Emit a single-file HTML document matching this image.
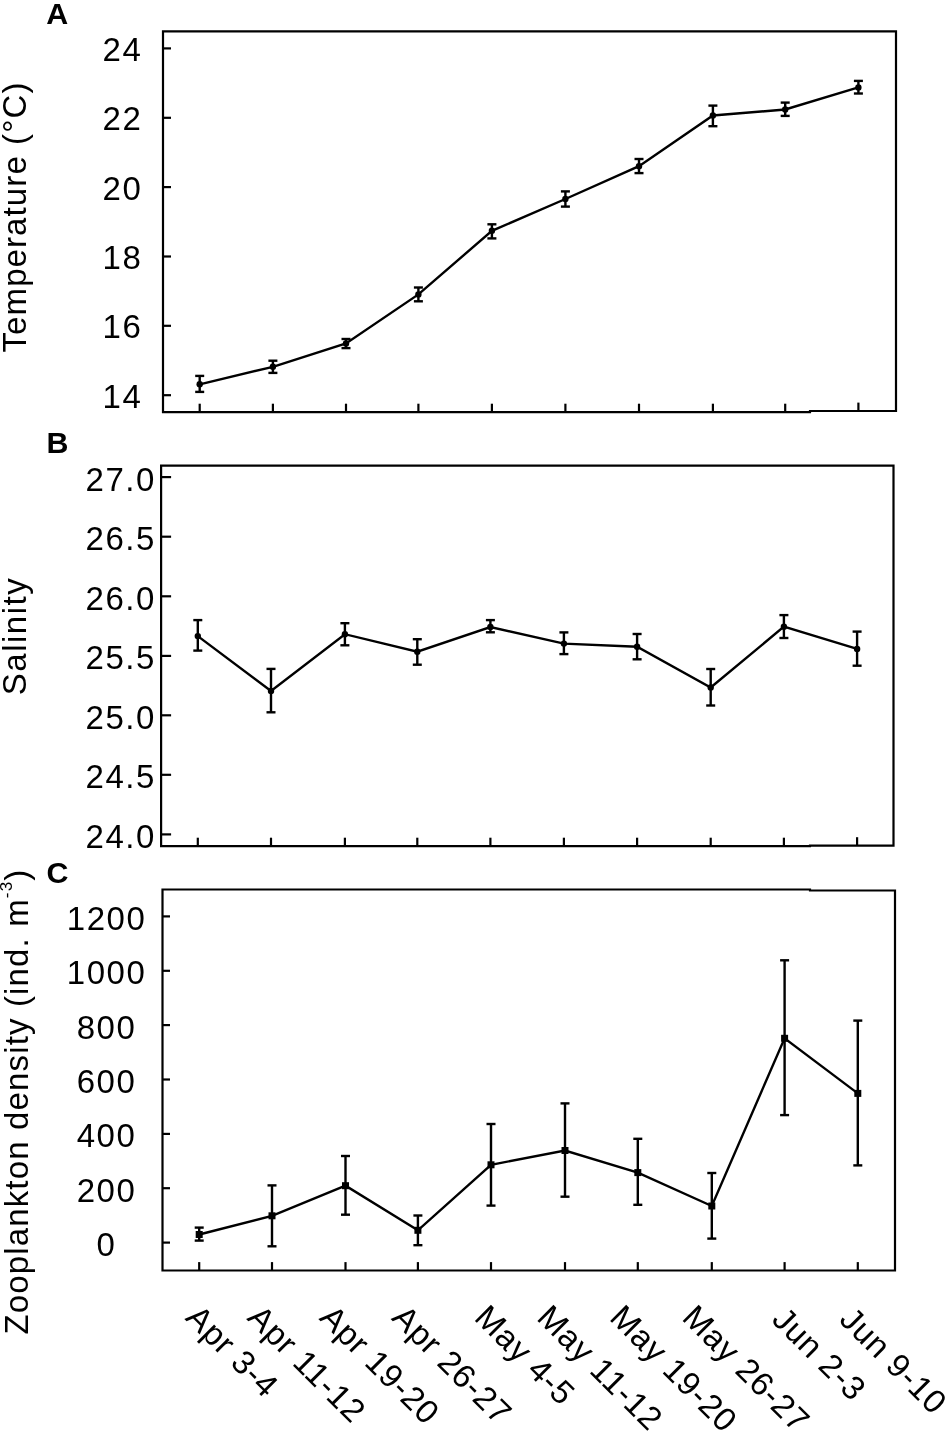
<!DOCTYPE html>
<html><head><meta charset="utf-8"><title>Figure</title>
<style>
html,body{margin:0;padding:0;background:#fff;}
body{width:945px;height:1433px;overflow:hidden;}
svg{display:block;}
text{font-family:'Liberation Sans', Arial, Helvetica, sans-serif;fill:#000;}
.tk{font-size:33px;letter-spacing:1.5px;}
.pl{font-size:30.4px;font-weight:bold;}
.yl{font-size:33px;letter-spacing:1.5px;}
.xl{font-size:33px;letter-spacing:0.8px;}
</style></head>
<body>
<svg width="945" height="1433" viewBox="0 0 945 1433">
<rect width="945" height="1433" fill="#fff"/>
<path d="M163,31.4 H810 V31.4 H896 V411.0 H810 V412.1 H163 Z" fill="none" stroke="#000" stroke-width="2.2" stroke-linejoin="miter"/>
<line x1="163" y1="48.4" x2="171" y2="48.4" stroke="#000" stroke-width="2.2"/>
<text x="142.3" y="61.0" text-anchor="end" class="tk">24</text>
<line x1="163" y1="117.8" x2="171" y2="117.8" stroke="#000" stroke-width="2.2"/>
<text x="142.3" y="130.4" text-anchor="end" class="tk">22</text>
<line x1="163" y1="187.1" x2="171" y2="187.1" stroke="#000" stroke-width="2.2"/>
<text x="142.3" y="199.7" text-anchor="end" class="tk">20</text>
<line x1="163" y1="256.5" x2="171" y2="256.5" stroke="#000" stroke-width="2.2"/>
<text x="142.3" y="269.1" text-anchor="end" class="tk">18</text>
<line x1="163" y1="325.8" x2="171" y2="325.8" stroke="#000" stroke-width="2.2"/>
<text x="142.3" y="338.40" text-anchor="end" class="tk">16</text>
<line x1="163" y1="395.2" x2="171" y2="395.2" stroke="#000" stroke-width="2.2"/>
<text x="142.3" y="407.8" text-anchor="end" class="tk">14</text>
<line x1="199.7" y1="412.1" x2="199.7" y2="403.70" stroke="#000" stroke-width="2.2"/>
<line x1="272.9" y1="412.1" x2="272.9" y2="403.70" stroke="#000" stroke-width="2.2"/>
<line x1="346" y1="412.1" x2="346" y2="403.70" stroke="#000" stroke-width="2.2"/>
<line x1="418.4" y1="412.1" x2="418.4" y2="403.70" stroke="#000" stroke-width="2.2"/>
<line x1="491.9" y1="412.1" x2="491.9" y2="403.70" stroke="#000" stroke-width="2.2"/>
<line x1="565.4" y1="412.1" x2="565.4" y2="403.70" stroke="#000" stroke-width="2.2"/>
<line x1="639" y1="412.1" x2="639" y2="403.70" stroke="#000" stroke-width="2.2"/>
<line x1="712.9" y1="412.1" x2="712.9" y2="403.70" stroke="#000" stroke-width="2.2"/>
<line x1="785.2" y1="412.1" x2="785.2" y2="403.70" stroke="#000" stroke-width="2.2"/>
<line x1="858.4" y1="411.0" x2="858.4" y2="402.6" stroke="#000" stroke-width="2.2"/>
<polyline fill="none" stroke="#000" stroke-width="2.4" points="199.7,384.3 272.9,366.8 346,343.5 418.4,294.4 491.9,230.8 565.4,199.0 639,166.2 712.9,115.5 785.2,109.5 858.4,87.4"/>
<line x1="199.7" y1="375.9" x2="199.7" y2="391.9" stroke="#000" stroke-width="2.4"/>
<line x1="195.2" y1="375.9" x2="204.2" y2="375.9" stroke="#000" stroke-width="2.4"/>
<line x1="195.2" y1="391.9" x2="204.2" y2="391.9" stroke="#000" stroke-width="2.4"/>
<circle cx="199.7" cy="384.3" r="3.2" fill="#000"/>
<line x1="272.9" y1="360.7" x2="272.9" y2="372.9" stroke="#000" stroke-width="2.4"/>
<line x1="268.4" y1="360.7" x2="277.4" y2="360.7" stroke="#000" stroke-width="2.4"/>
<line x1="268.4" y1="372.9" x2="277.4" y2="372.9" stroke="#000" stroke-width="2.4"/>
<circle cx="272.9" cy="366.8" r="3.2" fill="#000"/>
<line x1="346" y1="339.0" x2="346" y2="348.1" stroke="#000" stroke-width="2.4"/>
<line x1="341.5" y1="339.0" x2="350.5" y2="339.0" stroke="#000" stroke-width="2.4"/>
<line x1="341.5" y1="348.1" x2="350.5" y2="348.1" stroke="#000" stroke-width="2.4"/>
<circle cx="346" cy="343.5" r="3.2" fill="#000"/>
<line x1="418.4" y1="287.5" x2="418.4" y2="301.3" stroke="#000" stroke-width="2.4"/>
<line x1="413.9" y1="287.5" x2="422.9" y2="287.5" stroke="#000" stroke-width="2.4"/>
<line x1="413.9" y1="301.3" x2="422.9" y2="301.3" stroke="#000" stroke-width="2.4"/>
<circle cx="418.4" cy="294.4" r="3.2" fill="#000"/>
<line x1="491.9" y1="224.3" x2="491.9" y2="238.4" stroke="#000" stroke-width="2.4"/>
<line x1="487.4" y1="224.3" x2="496.4" y2="224.3" stroke="#000" stroke-width="2.4"/>
<line x1="487.4" y1="238.4" x2="496.4" y2="238.4" stroke="#000" stroke-width="2.4"/>
<circle cx="491.9" cy="230.8" r="3.2" fill="#000"/>
<line x1="565.4" y1="191.4" x2="565.4" y2="206.6" stroke="#000" stroke-width="2.4"/>
<line x1="560.9" y1="191.4" x2="569.9" y2="191.4" stroke="#000" stroke-width="2.4"/>
<line x1="560.9" y1="206.6" x2="569.9" y2="206.6" stroke="#000" stroke-width="2.4"/>
<circle cx="565.4" cy="199.0" r="3.2" fill="#000"/>
<line x1="639" y1="159.0" x2="639" y2="173.1" stroke="#000" stroke-width="2.4"/>
<line x1="634.5" y1="159.0" x2="643.5" y2="159.0" stroke="#000" stroke-width="2.4"/>
<line x1="634.5" y1="173.1" x2="643.5" y2="173.1" stroke="#000" stroke-width="2.4"/>
<circle cx="639" cy="166.2" r="3.2" fill="#000"/>
<line x1="712.9" y1="105.6" x2="712.9" y2="126.2" stroke="#000" stroke-width="2.4"/>
<line x1="708.4" y1="105.6" x2="717.4" y2="105.6" stroke="#000" stroke-width="2.4"/>
<line x1="708.4" y1="126.2" x2="717.4" y2="126.2" stroke="#000" stroke-width="2.4"/>
<circle cx="712.9" cy="115.5" r="3.2" fill="#000"/>
<line x1="785.2" y1="102.6" x2="785.2" y2="115.9" stroke="#000" stroke-width="2.4"/>
<line x1="780.7" y1="102.6" x2="789.7" y2="102.6" stroke="#000" stroke-width="2.4"/>
<line x1="780.7" y1="115.9" x2="789.7" y2="115.9" stroke="#000" stroke-width="2.4"/>
<circle cx="785.2" cy="109.5" r="3.2" fill="#000"/>
<line x1="858.4" y1="80.9" x2="858.4" y2="93.5" stroke="#000" stroke-width="2.4"/>
<line x1="853.9" y1="80.9" x2="862.9" y2="80.9" stroke="#000" stroke-width="2.4"/>
<line x1="853.9" y1="93.5" x2="862.9" y2="93.5" stroke="#000" stroke-width="2.4"/>
<circle cx="858.4" cy="87.4" r="3.2" fill="#000"/>
<path d="M161.1,465.6 H810 V465.6 H893.5 V845.6 H810 V846.1 H161.1 Z" fill="none" stroke="#000" stroke-width="2.2" stroke-linejoin="miter"/>
<line x1="161.1" y1="477.1" x2="171.1" y2="477.1" stroke="#000" stroke-width="2.2"/>
<text x="155.8" y="490.6" text-anchor="end" class="tk">27.0</text>
<line x1="161.1" y1="536.7" x2="171.1" y2="536.7" stroke="#000" stroke-width="2.2"/>
<text x="155.8" y="550.2" text-anchor="end" class="tk">26.5</text>
<line x1="161.1" y1="596.3" x2="171.1" y2="596.3" stroke="#000" stroke-width="2.2"/>
<text x="155.8" y="609.8" text-anchor="end" class="tk">26.0</text>
<line x1="161.1" y1="655.9" x2="171.1" y2="655.9" stroke="#000" stroke-width="2.2"/>
<text x="155.8" y="669.4" text-anchor="end" class="tk">25.5</text>
<line x1="161.1" y1="715.3" x2="171.1" y2="715.3" stroke="#000" stroke-width="2.2"/>
<text x="155.8" y="728.8" text-anchor="end" class="tk">25.0</text>
<line x1="161.1" y1="774.8" x2="171.1" y2="774.8" stroke="#000" stroke-width="2.2"/>
<text x="155.8" y="788.3" text-anchor="end" class="tk">24.5</text>
<line x1="161.1" y1="834.4" x2="171.1" y2="834.4" stroke="#000" stroke-width="2.2"/>
<text x="155.8" y="847.9" text-anchor="end" class="tk">24.0</text>
<line x1="197.8" y1="846.1" x2="197.8" y2="837.7" stroke="#000" stroke-width="2.2"/>
<line x1="271.0" y1="846.1" x2="271.0" y2="837.7" stroke="#000" stroke-width="2.2"/>
<line x1="344.9" y1="846.1" x2="344.9" y2="837.7" stroke="#000" stroke-width="2.2"/>
<line x1="417.3" y1="846.1" x2="417.3" y2="837.7" stroke="#000" stroke-width="2.2"/>
<line x1="490.4" y1="846.1" x2="490.4" y2="837.7" stroke="#000" stroke-width="2.2"/>
<line x1="563.9" y1="846.1" x2="563.9" y2="837.7" stroke="#000" stroke-width="2.2"/>
<line x1="637.1" y1="846.1" x2="637.1" y2="837.7" stroke="#000" stroke-width="2.2"/>
<line x1="710.7" y1="846.1" x2="710.7" y2="837.7" stroke="#000" stroke-width="2.2"/>
<line x1="783.9" y1="846.1" x2="783.9" y2="837.7" stroke="#000" stroke-width="2.2"/>
<line x1="857.1" y1="845.6" x2="857.1" y2="837.2" stroke="#000" stroke-width="2.2"/>
<polyline fill="none" stroke="#000" stroke-width="2.4" points="197.8,636.1 271.0,691.0 344.9,634.2 417.3,651.7 490.4,627.0 563.9,643.6 637.1,646.8 710.7,687.5 783.9,626.7 857.1,648.9"/>
<line x1="197.8" y1="620.1" x2="197.8" y2="650.6" stroke="#000" stroke-width="2.4"/>
<line x1="193.3" y1="620.1" x2="202.3" y2="620.1" stroke="#000" stroke-width="2.4"/>
<line x1="193.3" y1="650.6" x2="202.3" y2="650.6" stroke="#000" stroke-width="2.4"/>
<circle cx="197.8" cy="636.1" r="3.2" fill="#000"/>
<line x1="271.0" y1="668.9" x2="271.0" y2="712.3" stroke="#000" stroke-width="2.4"/>
<line x1="266.5" y1="668.9" x2="275.5" y2="668.9" stroke="#000" stroke-width="2.4"/>
<line x1="266.5" y1="712.3" x2="275.5" y2="712.3" stroke="#000" stroke-width="2.4"/>
<circle cx="271.0" cy="691.0" r="3.2" fill="#000"/>
<line x1="344.9" y1="623.2" x2="344.9" y2="645.3" stroke="#000" stroke-width="2.4"/>
<line x1="340.4" y1="623.2" x2="349.4" y2="623.2" stroke="#000" stroke-width="2.4"/>
<line x1="340.4" y1="645.3" x2="349.4" y2="645.3" stroke="#000" stroke-width="2.4"/>
<circle cx="344.9" cy="634.2" r="3.2" fill="#000"/>
<line x1="417.3" y1="639.2" x2="417.3" y2="664.7" stroke="#000" stroke-width="2.4"/>
<line x1="412.8" y1="639.2" x2="421.8" y2="639.2" stroke="#000" stroke-width="2.4"/>
<line x1="412.8" y1="664.7" x2="421.8" y2="664.7" stroke="#000" stroke-width="2.4"/>
<circle cx="417.3" cy="651.7" r="3.2" fill="#000"/>
<line x1="490.4" y1="620.1" x2="490.4" y2="632.3" stroke="#000" stroke-width="2.4"/>
<line x1="485.9" y1="620.1" x2="494.9" y2="620.1" stroke="#000" stroke-width="2.4"/>
<line x1="485.9" y1="632.3" x2="494.9" y2="632.3" stroke="#000" stroke-width="2.4"/>
<circle cx="490.4" cy="627.0" r="3.2" fill="#000"/>
<line x1="563.9" y1="632.4" x2="563.9" y2="654.1" stroke="#000" stroke-width="2.4"/>
<line x1="559.4" y1="632.4" x2="568.4" y2="632.4" stroke="#000" stroke-width="2.4"/>
<line x1="559.4" y1="654.1" x2="568.4" y2="654.1" stroke="#000" stroke-width="2.4"/>
<circle cx="563.9" cy="643.6" r="3.2" fill="#000"/>
<line x1="637.1" y1="634.0" x2="637.1" y2="659.3" stroke="#000" stroke-width="2.4"/>
<line x1="632.6" y1="634.0" x2="641.6" y2="634.0" stroke="#000" stroke-width="2.4"/>
<line x1="632.6" y1="659.3" x2="641.6" y2="659.3" stroke="#000" stroke-width="2.4"/>
<circle cx="637.1" cy="646.8" r="3.2" fill="#000"/>
<line x1="710.7" y1="669.0" x2="710.7" y2="705.5" stroke="#000" stroke-width="2.4"/>
<line x1="706.2" y1="669.0" x2="715.2" y2="669.0" stroke="#000" stroke-width="2.4"/>
<line x1="706.2" y1="705.5" x2="715.2" y2="705.5" stroke="#000" stroke-width="2.4"/>
<circle cx="710.7" cy="687.5" r="3.2" fill="#000"/>
<line x1="783.9" y1="615.1" x2="783.9" y2="638.0" stroke="#000" stroke-width="2.4"/>
<line x1="779.4" y1="615.1" x2="788.4" y2="615.1" stroke="#000" stroke-width="2.4"/>
<line x1="779.4" y1="638.0" x2="788.4" y2="638.0" stroke="#000" stroke-width="2.4"/>
<circle cx="783.9" cy="626.7" r="3.2" fill="#000"/>
<line x1="857.1" y1="631.6" x2="857.1" y2="665.7" stroke="#000" stroke-width="2.4"/>
<line x1="852.6" y1="631.6" x2="861.6" y2="631.6" stroke="#000" stroke-width="2.4"/>
<line x1="852.6" y1="665.7" x2="861.6" y2="665.7" stroke="#000" stroke-width="2.4"/>
<circle cx="857.1" cy="648.9" r="3.2" fill="#000"/>
<path d="M162.5,889.5 H810 V890.5 H895 V1270.5 H810 V1270.5 H162.5 Z" fill="none" stroke="#000" stroke-width="2.2" stroke-linejoin="miter"/>
<line x1="162.5" y1="916.4" x2="170.0" y2="916.4" stroke="#000" stroke-width="2.2"/>
<text x="106.55" y="929.9" text-anchor="middle" class="tk">1200</text>
<line x1="162.5" y1="970.8" x2="170.0" y2="970.8" stroke="#000" stroke-width="2.2"/>
<text x="106.55" y="984.3" text-anchor="middle" class="tk">1000</text>
<line x1="162.5" y1="1025.1" x2="170.0" y2="1025.1" stroke="#000" stroke-width="2.2"/>
<text x="106.55" y="1038.6" text-anchor="middle" class="tk">800</text>
<line x1="162.5" y1="1079.5" x2="170.0" y2="1079.5" stroke="#000" stroke-width="2.2"/>
<text x="106.55" y="1093.0" text-anchor="middle" class="tk">600</text>
<line x1="162.5" y1="1133.9" x2="170.0" y2="1133.9" stroke="#000" stroke-width="2.2"/>
<text x="106.55" y="1147.4" text-anchor="middle" class="tk">400</text>
<line x1="162.5" y1="1188.2" x2="170.0" y2="1188.2" stroke="#000" stroke-width="2.2"/>
<text x="106.55" y="1201.7" text-anchor="middle" class="tk">200</text>
<line x1="162.5" y1="1242.6" x2="170.0" y2="1242.6" stroke="#000" stroke-width="2.2"/>
<text x="106.55" y="1256.1" text-anchor="middle" class="tk">0</text>
<line x1="199.2" y1="1270.5" x2="199.2" y2="1262.1" stroke="#000" stroke-width="2.2"/>
<line x1="272" y1="1270.5" x2="272" y2="1262.1" stroke="#000" stroke-width="2.2"/>
<line x1="345.5" y1="1270.5" x2="345.5" y2="1262.1" stroke="#000" stroke-width="2.2"/>
<line x1="417.9" y1="1270.5" x2="417.9" y2="1262.1" stroke="#000" stroke-width="2.2"/>
<line x1="491" y1="1270.5" x2="491" y2="1262.1" stroke="#000" stroke-width="2.2"/>
<line x1="565" y1="1270.5" x2="565" y2="1262.1" stroke="#000" stroke-width="2.2"/>
<line x1="637.8" y1="1270.5" x2="637.8" y2="1262.1" stroke="#000" stroke-width="2.2"/>
<line x1="711.8" y1="1270.5" x2="711.8" y2="1262.1" stroke="#000" stroke-width="2.2"/>
<line x1="784.6" y1="1270.5" x2="784.6" y2="1262.1" stroke="#000" stroke-width="2.2"/>
<line x1="857.8" y1="1270.5" x2="857.8" y2="1262.1" stroke="#000" stroke-width="2.2"/>
<polyline fill="none" stroke="#000" stroke-width="2.4" points="199.2,1234.5 272,1215.8 345.5,1185.69 417.9,1230.3 491,1164.8 565,1150.5 637.8,1172.6 711.8,1206.0 784.6,1038.3 857.8,1093.39"/>
<line x1="199.2" y1="1227.6" x2="199.2" y2="1240.6" stroke="#000" stroke-width="2.4"/>
<line x1="194.7" y1="1227.6" x2="203.7" y2="1227.6" stroke="#000" stroke-width="2.4"/>
<line x1="194.7" y1="1240.6" x2="203.7" y2="1240.6" stroke="#000" stroke-width="2.4"/>
<rect x="195.7" y="1231.0" width="7" height="7" fill="#000"/>
<line x1="272" y1="1185.39" x2="272" y2="1246.3" stroke="#000" stroke-width="2.4"/>
<line x1="267.5" y1="1185.39" x2="276.5" y2="1185.39" stroke="#000" stroke-width="2.4"/>
<line x1="267.5" y1="1246.3" x2="276.5" y2="1246.3" stroke="#000" stroke-width="2.4"/>
<rect x="268.5" y="1212.3" width="7" height="7" fill="#000"/>
<line x1="345.5" y1="1156.0" x2="345.5" y2="1214.69" stroke="#000" stroke-width="2.4"/>
<line x1="341.0" y1="1156.0" x2="350.0" y2="1156.0" stroke="#000" stroke-width="2.4"/>
<line x1="341.0" y1="1214.69" x2="350.0" y2="1214.69" stroke="#000" stroke-width="2.4"/>
<rect x="342.0" y="1182.19" width="7" height="7" fill="#000"/>
<line x1="417.9" y1="1215.5" x2="417.9" y2="1245.19" stroke="#000" stroke-width="2.4"/>
<line x1="413.4" y1="1215.5" x2="422.4" y2="1215.5" stroke="#000" stroke-width="2.4"/>
<line x1="413.4" y1="1245.19" x2="422.4" y2="1245.19" stroke="#000" stroke-width="2.4"/>
<rect x="414.4" y="1226.8" width="7" height="7" fill="#000"/>
<line x1="491" y1="1124.0" x2="491" y2="1205.6" stroke="#000" stroke-width="2.4"/>
<line x1="486.5" y1="1124.0" x2="495.5" y2="1124.0" stroke="#000" stroke-width="2.4"/>
<line x1="486.5" y1="1205.6" x2="495.5" y2="1205.6" stroke="#000" stroke-width="2.4"/>
<rect x="487.5" y="1161.3" width="7" height="7" fill="#000"/>
<line x1="565" y1="1103.39" x2="565" y2="1196.69" stroke="#000" stroke-width="2.4"/>
<line x1="560.5" y1="1103.39" x2="569.5" y2="1103.39" stroke="#000" stroke-width="2.4"/>
<line x1="560.5" y1="1196.69" x2="569.5" y2="1196.69" stroke="#000" stroke-width="2.4"/>
<rect x="561.5" y="1147.0" width="7" height="7" fill="#000"/>
<line x1="637.8" y1="1138.8" x2="637.8" y2="1204.8" stroke="#000" stroke-width="2.4"/>
<line x1="633.3" y1="1138.8" x2="642.3" y2="1138.8" stroke="#000" stroke-width="2.4"/>
<line x1="633.3" y1="1204.8" x2="642.3" y2="1204.8" stroke="#000" stroke-width="2.4"/>
<rect x="634.3" y="1169.1" width="7" height="7" fill="#000"/>
<line x1="711.8" y1="1173.0" x2="711.8" y2="1238.6" stroke="#000" stroke-width="2.4"/>
<line x1="707.3" y1="1173.0" x2="716.3" y2="1173.0" stroke="#000" stroke-width="2.4"/>
<line x1="707.3" y1="1238.6" x2="716.3" y2="1238.6" stroke="#000" stroke-width="2.4"/>
<rect x="708.3" y="1202.5" width="7" height="7" fill="#000"/>
<line x1="784.6" y1="960.30" x2="784.6" y2="1115.1" stroke="#000" stroke-width="2.4"/>
<line x1="780.1" y1="960.30" x2="789.1" y2="960.30" stroke="#000" stroke-width="2.4"/>
<line x1="780.1" y1="1115.1" x2="789.1" y2="1115.1" stroke="#000" stroke-width="2.4"/>
<rect x="781.1" y="1034.8" width="7" height="7" fill="#000"/>
<line x1="857.8" y1="1020.6" x2="857.8" y2="1165.39" stroke="#000" stroke-width="2.4"/>
<line x1="853.3" y1="1020.6" x2="862.3" y2="1020.6" stroke="#000" stroke-width="2.4"/>
<line x1="853.3" y1="1165.39" x2="862.3" y2="1165.39" stroke="#000" stroke-width="2.4"/>
<rect x="854.3" y="1089.89" width="7" height="7" fill="#000"/>
<text x="46.2" y="24" class="pl">A</text>
<text x="46.6" y="452.6" class="pl">B</text>
<text x="46.4" y="883.4" class="pl">C</text>
<text transform="translate(26,217.0) rotate(-90)" text-anchor="middle" class="yl" style="letter-spacing:1.1px">Temperature (°C)</text>
<text transform="translate(25.6,636) rotate(-90)" text-anchor="middle" class="yl">Salinity</text>
<text transform="translate(28,1101.6) rotate(-90)" text-anchor="middle" class="yl" style="letter-spacing:1.15px">Zooplankton density (ind. m<tspan dy="-16" font-size="17">-3</tspan><tspan dy="16">)</tspan></text>
<text transform="translate(184.2,1319) rotate(45)" class="xl">Apr 3-4</text>
<text transform="translate(246.1,1319) rotate(45)" class="xl">Apr 11-12</text>
<text transform="translate(318.2,1319) rotate(45)" class="xl">Apr 19-20</text>
<text transform="translate(390.6,1319) rotate(45)" class="xl">Apr 26-27</text>
<text transform="translate(473,1319) rotate(45)" class="xl">May 4-5</text>
<text transform="translate(535.5,1319) rotate(45)" class="xl">May 11-12</text>
<text transform="translate(608.2,1319) rotate(45)" class="xl">May 19-20</text>
<text transform="translate(680.8,1319) rotate(45)" class="xl">May 26-27</text>
<text transform="translate(770.5,1321) rotate(45)" class="xl">Jun 2-3</text>
<text transform="translate(838,1321) rotate(45)" class="xl">Jun 9-10</text>
</svg>
</body></html>
